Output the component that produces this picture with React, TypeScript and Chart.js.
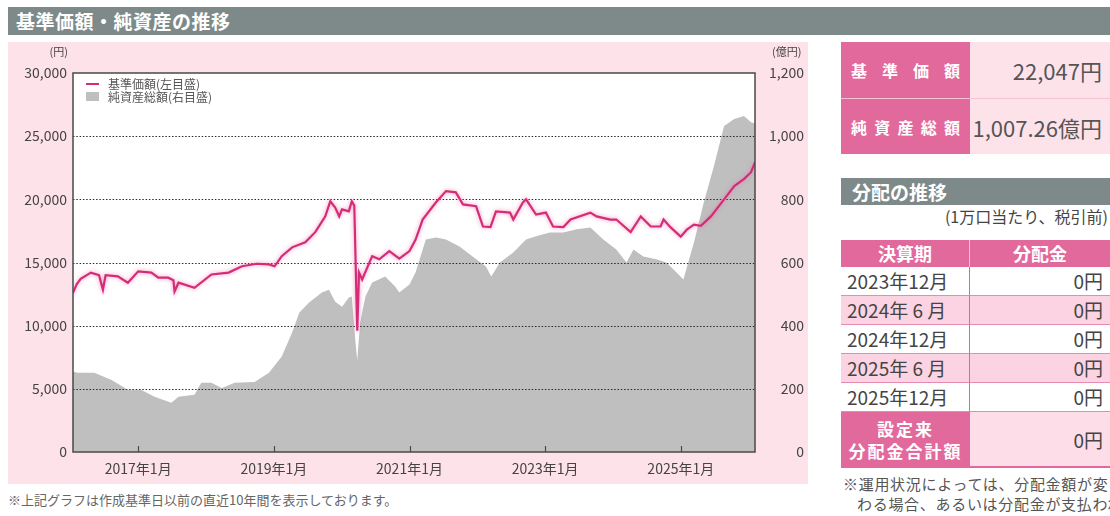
import React, { useEffect, useRef } from 'react';
import { Chart, registerables } from 'chart.js';

Chart.register(...registerables);

const FONT = "'Noto Sans CJK JP', 'Noto Sans', sans-serif";

// 基準価額 (円, left axis)
const navDates = [
  '2016-01-15', '2016-02-05', '2016-02-26', '2016-04-20', '2016-06-03', '2016-06-24', '2016-07-08', '2016-09-13', '2016-11-06',
  '2017-01-01', '2017-03-11', '2017-04-18', '2017-06-10', '2017-07-08', '2017-07-14', '2017-08-05', '2017-10-30',
  '2018-01-30', '2018-05-01', '2018-07-12', '2018-10-01', '2018-12-05',
  '2019-01-05', '2019-02-13', '2019-04-08', '2019-06-18', '2019-08-11', '2019-10-04', '2019-10-31', '2019-11-27', '2019-12-18',
  '2020-01-03', '2020-02-09', '2020-02-25', '2020-03-08', '2020-03-24', '2020-04-03', '2020-04-20', '2020-06-13', '2020-07-21', '2020-09-14', '2020-11-07',
  '2021-01-01', '2021-02-03', '2021-03-11', '2021-05-21', '2021-07-15', '2021-09-07', '2021-10-15', '2021-12-25',
  '2022-02-01', '2022-03-11', '2022-04-10', '2022-06-25', '2022-07-12', '2022-09-03', '2022-09-20', '2022-11-13',
  '2023-01-05', '2023-02-13', '2023-04-08', '2023-05-16', '2023-09-01', '2023-10-04', '2023-12-17',
  '2024-01-19', '2024-04-05', '2024-05-29', '2024-07-22', '2024-09-14', '2024-09-30', '2024-11-06', '2024-12-31',
  '2025-02-03', '2025-03-11', '2025-04-18', '2025-06-11', '2025-08-21', '2025-10-15', '2025-12-06',
  '2026-01-14', '2026-02-05',
];
const navValues = [
  12600, 13300, 13700, 14200, 14000, 12850, 14000, 13900, 13400,
  14300, 14200, 13800, 13800, 13600, 12700, 13400, 13000,
  14050, 14200, 14700, 14900, 14850,
  14700, 15500, 16200, 16600, 17400, 18650, 19850, 19350, 18650,
  19200, 19050, 19850, 19500, 9600, 14200, 13650, 15500, 15250, 15900, 15300,
  15900, 16800, 18400, 19750, 20650, 20550, 19600, 19450,
  17850, 17800, 19050, 18950, 18400, 19750, 20000, 18800,
  18950, 17850, 17800, 18400, 18950, 18650, 18400,
  18400, 17400, 18650, 17850, 17850, 18400, 17800, 17050,
  17600, 18000, 17900, 18650, 20000, 21050, 21600,
  22150, 22950,
];

// 純資産総額 (億円, right axis)
const assetDates = [
  '2016-01-15', '2016-02-10', '2016-05-08', '2016-08-07', '2016-11-06',
  '2017-01-16', '2017-03-28', '2017-06-27', '2017-08-05', '2017-10-30', '2017-12-06',
  '2018-01-30', '2018-03-25', '2018-06-03', '2018-09-19', '2018-12-05',
  '2019-02-13', '2019-04-08', '2019-05-16', '2019-07-08', '2019-09-16', '2019-10-24', '2019-11-27',
  '2020-01-03', '2020-02-09', '2020-02-25', '2020-03-13', '2020-03-24', '2020-04-09', '2020-05-07', '2020-06-13', '2020-08-22', '2020-10-15', '2020-11-07',
  '2021-01-01', '2021-02-03', '2021-03-28', '2021-05-21', '2021-07-15', '2021-09-27', '2021-12-06',
  '2022-02-17', '2022-03-15', '2022-05-01', '2022-07-12', '2022-09-20', '2022-11-13',
  '2023-01-26', '2023-04-08', '2023-06-18', '2023-09-01', '2023-11-10',
  '2024-01-19', '2024-03-13', '2024-04-20', '2024-06-12', '2024-08-22', '2024-10-15', '2024-12-09',
  '2025-01-15', '2025-03-11', '2025-05-03', '2025-06-27', '2025-08-21', '2025-10-15', '2025-12-06',
  '2026-01-14', '2026-02-05',
];
const assetValues = [
  255, 251, 251, 229, 197,
  197, 175, 156, 175, 181, 219,
  219, 203, 219, 222, 251,
  302, 378, 441, 473, 505, 514, 476,
  460, 489, 492, 356, 290, 410, 492, 537, 556, 524, 505,
  530, 568, 673, 679, 673, 651, 619,
  587, 556, 600, 632, 673, 683,
  695, 695, 705, 711, 673,
  641, 600, 641, 619, 610, 600, 568,
  546, 663, 790, 905, 1032, 1054, 1064,
  1044, 1040,
];

const xTickYears = [2017, 2019, 2021, 2023, 2025];
const leftAxis = { min: 0, max: 30000, step: 5000 };
const rightAxis = { min: 0, max: 1200, step: 200 };

const navLatest = '22,047円';
const assetsLatest = '1,007.26億円';
const distributionPeriods = ['2023年12月', '2024年 6 月', '2024年12月', '2025年 6 月', '2025年12月'];
const distributionAmounts = ['0円', '0円', '0円', '0円', '0円'];
const distributionTotal = '0円';

function toYear(s: string): number {
  const [y, m, d] = s.split('-').map(Number);
  return y + (m - 1) / 12 + (d - 1) / 365;
}

const PINK_DARK = '#e2699c';
const PINK_LIGHT = '#fde2ea';
const GRAY_BAR = '#7e8a8a';
const LINE_PINK = '#d42d77';

const chartPlugin = {
  id: 'decor',
  beforeDraw(chart: any) {
    const { ctx, chartArea: a } = chart;
    ctx.save();
    ctx.fillStyle = '#ffffff';
    ctx.fillRect(a.left, a.top, a.right - a.left, a.bottom - a.top);
    ctx.restore();
  },
  beforeDatasetDraw(chart: any, args: any) {
    if (args.index !== 0) return;
    const { ctx, chartArea: a, scales } = chart;
    ctx.save();
    ctx.strokeStyle = '#2a2a2a';
    ctx.lineWidth = 1.1;
    ctx.setLineDash([1.5, 1.8]);
    for (let v = leftAxis.min + leftAxis.step; v < leftAxis.max; v += leftAxis.step) {
      const y = Math.round(scales.y.getPixelForValue(v)) + 0.5;
      ctx.beginPath();
      ctx.moveTo(a.left, y);
      ctx.lineTo(a.right, y);
      ctx.stroke();
    }
    ctx.restore();
    ctx.save();
    ctx.shadowColor = 'rgba(238, 110, 165, 0.75)';
    ctx.shadowBlur = 4;
  },
  afterDatasetDraw(chart: any, args: any) {
    if (args.index !== 0) return;
    chart.ctx.restore();
  },
  afterDatasetsDraw(chart: any) {
    const { ctx, chartArea: a, scales } = chart;
    ctx.save();
    ctx.strokeStyle = '#4a4a4a';
    ctx.lineWidth = 1.5;
    ctx.strokeRect(a.left, a.top, a.right - a.left, a.bottom - a.top);
    ctx.lineWidth = 1.2;
    for (const yr of xTickYears) {
      const x = Math.round(scales.x.getPixelForValue(yr)) + 0.5;
      ctx.beginPath();
      ctx.moveTo(x, a.bottom);
      ctx.lineTo(x, a.bottom - 6);
      ctx.stroke();
    }
    ctx.restore();
  },
};

function NavChart() {
  const ref = useRef<HTMLCanvasElement | null>(null);
  useEffect(() => {
    if (!ref.current) return;
    const navPts = navDates.map((d, i) => ({ x: toYear(d), y: navValues[i] }));
    const assetPts = assetDates.map((d, i) => ({ x: toYear(d), y: assetValues[i] }));
    const xMin = toYear(navDates[0]);
    const xMax = toYear(navDates[navDates.length - 1]);
    const tickFont = { family: FONT, size: 14 };
    const chart = new Chart(ref.current, {
      type: 'line',
      data: {
        datasets: [
          {
            label: '基準価額(左目盛)',
            data: navPts,
            yAxisID: 'y',
            borderColor: LINE_PINK,
            borderWidth: 2.2,
            pointRadius: 0,
            fill: false,
            tension: 0,
            order: 0,
          },
          {
            label: '純資産総額(右目盛)',
            data: assetPts,
            yAxisID: 'y1',
            borderColor: '#bfbfbf',
            backgroundColor: '#bfbfbf',
            borderWidth: 0,
            pointRadius: 0,
            fill: 'origin',
            tension: 0,
            order: 1,
          },
        ],
      },
      options: {
        animation: false,
        responsive: false,
        maintainAspectRatio: false,
        layout: { padding: { top: 31, right: 4, left: 0, bottom: 0 } },
        plugins: { legend: { display: false }, tooltip: { enabled: false } },
        scales: {
          x: {
            type: 'linear',
            min: xMin,
            max: xMax,
            grid: { display: false, drawTicks: false },
            border: { display: false },
            afterBuildTicks: (s: any) => {
              s.ticks = xTickYears.map((v) => ({ value: v }));
            },
            afterFit: (s: any) => {
              s.height = 32;
            },
            ticks: {
              autoSkip: false,
              maxRotation: 0,
              padding: 8,
              color: '#444',
              font: tickFont,
              callback: (v: any) => `${v}年1月`,
            },
          },
          y: {
            position: 'left',
            min: leftAxis.min,
            max: leftAxis.max,
            grid: { display: false, drawTicks: false },
            border: { display: false },
            afterFit: (s: any) => {
              s.width = 65;
            },
            ticks: {
              stepSize: leftAxis.step,
              padding: 6,
              color: '#444',
              font: tickFont,
              callback: (v: any) => Number(v).toLocaleString('en-US'),
            },
          },
          y1: {
            position: 'right',
            min: rightAxis.min,
            max: rightAxis.max,
            grid: { display: false, drawTicks: false },
            border: { display: false },
            afterFit: (s: any) => {
              s.width = 49;
            },
            ticks: {
              stepSize: rightAxis.step,
              crossAlign: 'far',
              color: '#444',
              font: tickFont,
              callback: (v: any) => Number(v).toLocaleString('en-US'),
            },
          },
        },
      } as any,
      plugins: [chartPlugin],
    });
    return () => chart.destroy();
  }, []);
  return <canvas ref={ref} width={800} height={442} style={{ position: 'absolute', left: 0, top: 0, width: 800, height: 442 }} />;
}

const abs = (left: number, top: number, extra: React.CSSProperties = {}): React.CSSProperties => ({
  position: 'absolute',
  left,
  top,
  ...extra,
});

export default function App() {
  const rowTops = [267, 296, 325, 354, 383];
  return (
    <div
      style={{
        position: 'fixed',
        left: 0,
        top: 0,
        width: 1110,
        height: 516,
        background: '#fff',
        overflow: 'hidden',
        fontFamily: FONT,
        color: '#444',
      }}
    >
      {/* title bar */}
      <div
        style={abs(8, 7, {
          width: 1102,
          height: 28,
          background: GRAY_BAR,
          color: '#fff',
          fontSize: 19,
          fontWeight: 700,
          lineHeight: '28px',
          paddingLeft: 8,
          letterSpacing: 0.5,
          boxSizing: 'border-box',
        })}
      >
        基準価額・純資産の推移
      </div>

      {/* chart panel */}
      <div style={abs(8, 42, { width: 800, height: 442, background: PINK_LIGHT })}>
        <NavChart />
        <div style={abs(32, 1, { fontSize: 11, width: 28, textAlign: 'right' })}>(円)</div>
        <div style={abs(764, 1, { fontSize: 11 })}>(億円)</div>
        {/* legend */}
        <div style={abs(78, 35, { fontSize: 12, lineHeight: '13px', color: '#555' })}>
          <div style={{ display: 'flex', alignItems: 'center' }}>
            <span style={{ display: 'inline-block', width: 13, height: 2, background: LINE_PINK, marginRight: 9 }} />
            基準価額(左目盛)
          </div>
          <div style={{ display: 'flex', alignItems: 'center' }}>
            <span style={{ display: 'inline-block', width: 13, height: 9, background: '#bfbfbf', marginRight: 9 }} />
            純資産総額(右目盛)
          </div>
        </div>
      </div>

      {/* left footnote */}
      <div style={abs(8, 490, { fontSize: 13, color: '#666', whiteSpace: 'nowrap' })}>
        ※上記グラフは作成基準日以前の直近10年間を表示しております。
      </div>

      {/* key figures */}
      {[
        { label: ['基', '準', '価', '額'], value: navLatest, top: 42 },
        { label: ['純', '資', '産', '総', '額'], value: assetsLatest, top: 98 },
      ].map((r, i) => (
        <React.Fragment key={i}>
          <div
            style={abs(841, r.top, {
              width: 129,
              height: 56,
              background: PINK_DARK,
              color: '#fff',
              fontWeight: 700,
              fontSize: 16,
              display: 'flex',
              alignItems: 'center',
              justifyContent: 'space-between',
              padding: '0 10px',
              boxSizing: 'border-box',
              borderTop: i === 1 ? '1px solid #f6c3d6' : 'none',
            })}
          >
            {r.label.map((c, j) => (
              <span key={j}>{c}</span>
            ))}
          </div>
          <div
            style={abs(970, r.top, {
              width: 140,
              height: 56,
              background: PINK_LIGHT,
              fontSize: 22,
              color: '#555',
              display: 'flex',
              alignItems: 'center',
              justifyContent: 'flex-end',
              paddingRight: 8,
              boxSizing: 'border-box',
              borderTop: i === 1 ? '1px solid #f6c3d6' : 'none',
              whiteSpace: 'nowrap',
            })}
          >
            {r.value}
          </div>
        </React.Fragment>
      ))}

      {/* distribution */}
      <div
        style={abs(841, 178, {
          width: 269,
          height: 27,
          background: GRAY_BAR,
          color: '#fff',
          fontSize: 19,
          fontWeight: 700,
          lineHeight: '27px',
          paddingLeft: 11,
          boxSizing: 'border-box',
        })}
      >
        分配の推移
      </div>
      <div style={abs(841, 206, { width: 267, textAlign: 'right', fontSize: 16, lineHeight: '20px', whiteSpace: 'nowrap' })}>
        (1万口当たり、税引前)
      </div>

      {/* table header */}
      <div
        style={abs(841, 240, {
          width: 129,
          height: 27,
          background: PINK_DARK,
          color: '#fff',
          fontWeight: 700,
          fontSize: 18,
          textAlign: 'center',
          lineHeight: '27px',
          borderRight: '1px solid #f6c3d6',
          boxSizing: 'border-box',
        })}
      >
        決算期
      </div>
      <div
        style={abs(970, 240, {
          width: 140,
          height: 27,
          background: PINK_DARK,
          color: '#fff',
          fontWeight: 700,
          fontSize: 18,
          textAlign: 'center',
          lineHeight: '27px',
        })}
      >
        分配金
      </div>

      {distributionPeriods.map((p, i) => {
        const bg = i % 2 === 1 ? '#fbd3e2' : '#ffffff';
        return (
          <React.Fragment key={p}>
            <div
              style={abs(841, rowTops[i], {
                width: 129,
                height: 29,
                background: bg,
                fontSize: 19,
                lineHeight: '28px',
                paddingLeft: 6,
                borderBottom: '1px solid #e58cb0',
                borderRight: '1px solid #9a8a90',
                boxSizing: 'border-box',
                whiteSpace: 'nowrap',
              })}
            >
              {p}
            </div>
            <div
              style={abs(970, rowTops[i], {
                width: 140,
                height: 29,
                background: bg,
                fontSize: 19,
                lineHeight: '28px',
                textAlign: 'right',
                paddingRight: 7,
                borderBottom: '1px solid #e58cb0',
                boxSizing: 'border-box',
              })}
            >
              {distributionAmounts[i]}
            </div>
          </React.Fragment>
        );
      })}

      <div
        style={abs(841, 412, {
          width: 129,
          height: 56,
          background: PINK_DARK,
          color: '#fff',
          fontWeight: 700,
          fontSize: 17,
          lineHeight: '22px',
          textAlign: 'center',
          display: 'flex',
          flexDirection: 'column',
          justifyContent: 'center',
          letterSpacing: 2,
          boxSizing: 'border-box',
        })}
      >
        <div>設定来</div>
        <div>分配金合計額</div>
      </div>
      <div
        style={abs(970, 412, {
          width: 140,
          height: 56,
          background: '#fcdde8',
          fontSize: 19,
          lineHeight: '56px',
          textAlign: 'right',
          paddingRight: 7,
          borderBottom: '2px solid ' + PINK_DARK,
          boxSizing: 'border-box',
        })}
      >
        {distributionTotal}
      </div>

      <div style={abs(843, 474, { fontSize: 15, color: '#555', whiteSpace: 'nowrap', lineHeight: '20px', letterSpacing: 0.7 })}>
        <div>※運用状況によっては、分配金額が変</div>
        <div style={{ paddingLeft: 14 }}>わる場合、あるいは分配金が支払われない場合があります。</div>
      </div>
    </div>
  );
}
